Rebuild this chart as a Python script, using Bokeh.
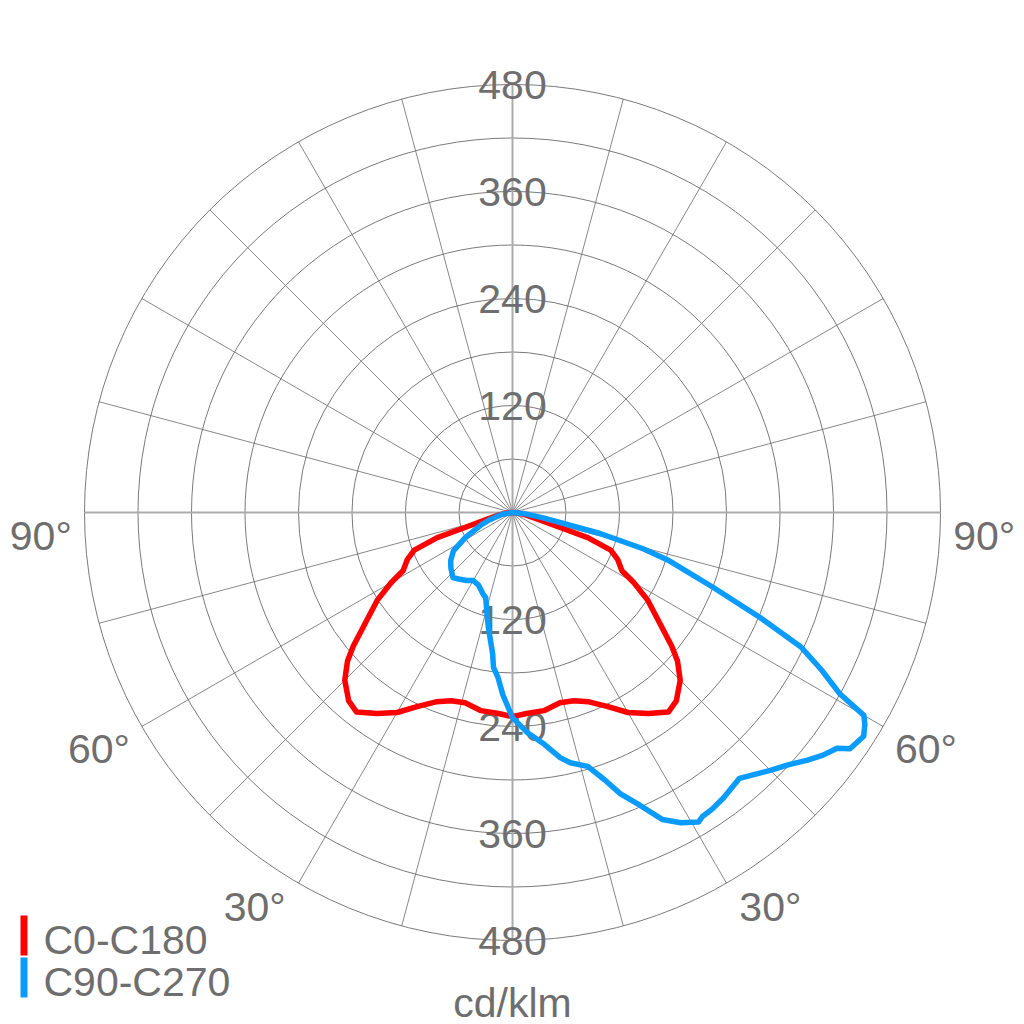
import numpy as np
from bokeh.plotting import figure
from bokeh.models import ColumnDataSource, Range1d
from bokeh.core.properties import value
from bokeh.embed import file_html
from bokeh.resources import INLINE

# ---------------- data (cd/klm vs gamma in degrees, 0 = nadir) ----------------
RING_VALUES = [60, 120, 180, 240, 300, 360, 420, 480]
RING_LABELS = ["120", "240", "360", "480"]
RING_LABEL_VALUES = [120, 240, 360, 480]
ANGLE_LABELS = ["90°", "60°", "30°"]
ANGLE_LABEL_GAMMA = [90, 60, 30]
SERIES_NAMES = ["C0-C180", "C90-C270"]

# C0-C180 (symmetric): gamma on one side, mirrored on the other
RED_GAMMA = [0, 4, 9, 14, 18, 22, 26, 30, 34, 38, 41, 45, 48, 50, 53, 57, 60,
             62, 66, 69, 71.5, 72.5, 75, 80, 85, 90]
RED_I = [229, 226, 225, 220, 222, 229, 242, 259, 272, 284, 280, 266, 249, 233,
         207, 181, 157, 139, 129, 118, 89, 56, 30, 15, 6, 0]

# C90-C270: negative gamma = C270 side (left), positive = C90 side (right)
BLUE_GAMMA = [-90, -80, -72, -68, -62, -57, -52, -48, -45, -42.5, -39, -34,
              -30, -25, -20, -17.5, -13.5, -11.8, -8, -7, -5, -3, 0,
              4, 7.5, 11, 13, 16.5, 19, 21, 23.5, 26, 28.5, 31, 32, 34, 36.5,
              39, 40.5, 42.5, 45, 47.5, 50, 52, 54, 55, 57.5, 59, 60, 61, 63,
              65, 67, 69.5, 73, 74.5, 76.5, 80, 85, 90]
BLUE_I = [0, 12, 28, 39, 60, 79, 88, 93, 96, 99, 96, 92,
          88, 90, 97, 100, 121, 132, 160, 175, 186, 205, 230,
          248, 261, 280, 288, 297, 317, 338, 358, 383, 396, 405, 402, 401, 398,
          394, 392, 399, 409, 419, 432, 442, 450, 462, 467, 461, 455, 420, 389,
          357, 302, 241, 182, 152, 101, 35, 12, 0]

# ---------------- layout ----------------
W = H = 1024
PX = 428.0 / 480.0          # pixels per cd/klm
K = 1.0 / PX                # cd/klm per pixel
HALF = (W / 2) * K
TEXT_COLOR = "#6e6e6e"
FONT = value("Liberation Sans")
FS = "41px"


def sx(X):   # screen px -> data x
    return (X - W / 2) * K


def sy(Y):
    return (H / 2 - Y) * K


def polar(gamma_deg, intensity):
    g = np.radians(np.asarray(gamma_deg, dtype=float))
    r = np.asarray(intensity, dtype=float)
    return r * np.sin(g), -r * np.cos(g)


p = figure(width=W, height=H, x_range=Range1d(-HALF, HALF), y_range=Range1d(-HALF, HALF),
           output_backend="svg", toolbar_location=None, min_border=0,
           x_axis_type=None, y_axis_type=None)
p.grid.visible = False
p.outline_line_color = None
p.background_fill_color = "white"
p.border_fill_color = "white"

# rings
p.circle(x=[0] * len(RING_VALUES), y=[0] * len(RING_VALUES), radius=RING_VALUES,
         fill_color=None, line_color="#7a7a7a", line_width=1)

# spokes every 15 degrees
spoke_ang = np.arange(0, 360, 15)
minor = [a for a in spoke_ang if a % 90 != 0]
major = [a for a in spoke_ang if a % 90 == 0]
rmax = RING_VALUES[-1]
mx, my = polar(minor, [rmax] * len(minor))
p.segment(x0=0, y0=0, x1=mx, y1=my, line_color="#6a6a6a", line_width=0.8)
Mx, My = polar(major, [rmax] * len(major))
p.segment(x0=0, y0=0, x1=Mx, y1=My, line_color="#ababab", line_width=2)

# ring labels (above and below centre)
lab_src = ColumnDataSource(dict(
    x=[0] * (2 * len(RING_LABELS)),
    y=RING_LABEL_VALUES + [-v for v in RING_LABEL_VALUES],
    t=RING_LABELS + RING_LABELS))
p.text(x="x", y="y", text="t", source=lab_src, text_font=FONT, text_font_size=FS,
       text_color=TEXT_COLOR, text_align="center", text_baseline="middle")

# angle labels on both sides
R_LAB = 529
ang_offx = {90: 0, 60: 5, 30: 22}
ang_offy = {90: 23, 60: 1, 30: -14}
ax_, ay_, at_, aox, aoy = [], [], [], [], []
for t, g in zip(ANGLE_LABELS, ANGLE_LABEL_GAMMA):
    for s in (-1, 1):
        x, y = polar([s * g], [R_LAB])
        ax_.append(float(x[0])); ay_.append(float(y[0])); at_.append(t)
        aox.append(s * ang_offx[g]); aoy.append(ang_offy[g])
ang_src = ColumnDataSource(dict(x=ax_, y=ay_, t=at_, ox=aox, oy=aoy))
p.text(x="x", y="y", text="t", x_offset="ox", y_offset="oy", source=ang_src,
       text_font=FONT, text_font_size=FS, text_color=TEXT_COLOR,
       text_align="center", text_baseline="middle")

# curves
rg = [-g for g in RED_GAMMA[::-1]] + RED_GAMMA[1:]
ri = RED_I[::-1] + RED_I[1:]
rx, ry = polar(rg, ri)
p.line(rx, ry, line_color="#ff0000", line_width=5.5, line_join="round", line_cap="round")
bx, by = polar(BLUE_GAMMA, BLUE_I)
p.line(bx, by, line_color="#0a9bff", line_width=5.5, line_join="round", line_cap="round")

# legend (manual)
p.rect(x=[sx(23.5), sx(23.5)], y=[sy(935), sy(977)], width=7, height=40,
       width_units="screen", height_units="screen",
       fill_color=["#ff0000", "#0a9bff"], line_color=None)
p.text(x=[sx(43), sx(43)], y=[sy(939), sy(981)], text=SERIES_NAMES,
       text_font=FONT, text_font_size=FS, text_color=TEXT_COLOR,
       text_align="left", text_baseline="middle")

# unit label
p.text(x=[0], y=[sy(1002)], text=["cd/klm"], text_font=FONT, text_font_size=FS,
       text_color=TEXT_COLOR, text_align="center", text_baseline="alphabetic")

open("out.html", "w").write(file_html(p, INLINE))
